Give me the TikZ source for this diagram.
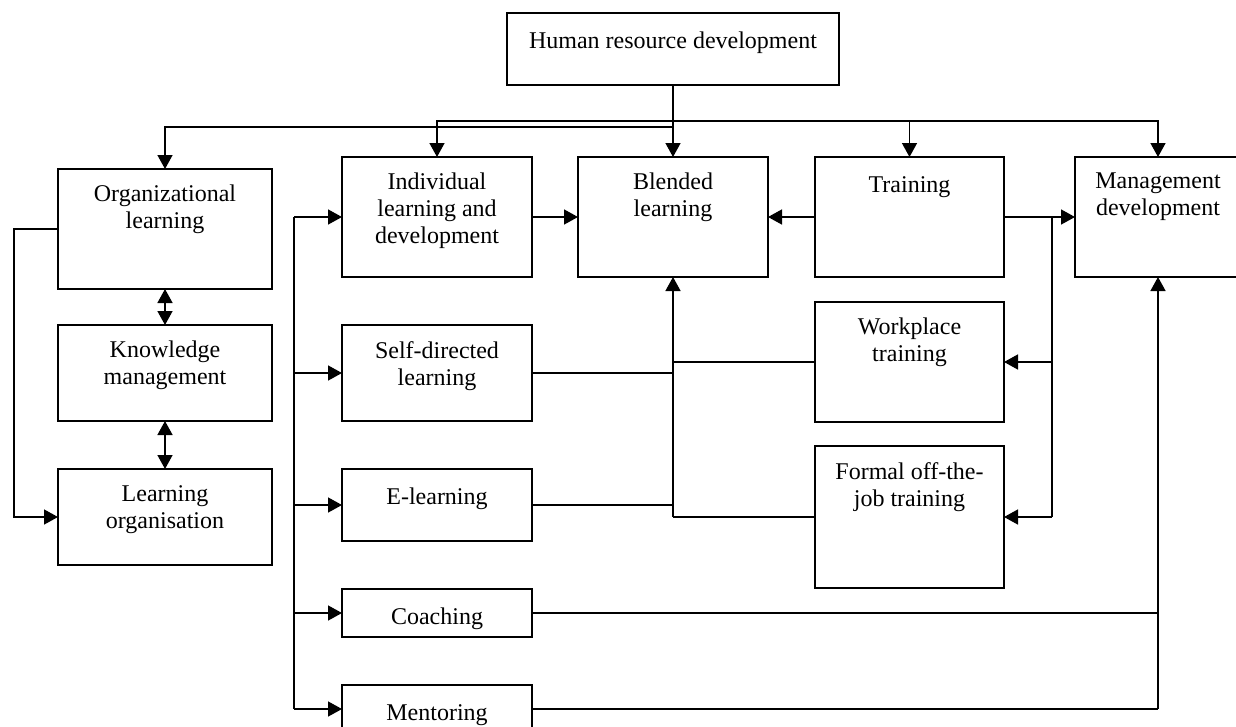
\documentclass[tikz,border=0pt]{standalone}
\usepackage{fontspec}
\setmainfont{Liberation Serif}
\usetikzlibrary{arrows.meta}

\begin{document}
\begin{tikzpicture}[x=1pt,y=-1pt,line width=1.5pt,
  >={Triangle[length=14pt,width=15pt]},
  box/.style={draw,rectangle,inner sep=0pt,outer sep=0pt},
  lbl/.style={anchor=north,align=center,inner sep=0pt,yshift=-15.5pt,
    font=\fontsize{24}{27}\selectfont,execute at begin node=\strut}]
  \useasboundingbox (0,0) rectangle (1236,726);
  \clip (0,0) rectangle (1236,726);

  \node[box,minimum width=332,minimum height=72] (hrd) at (673,49) {};
  \node[box,minimum width=214,minimum height=120] (orgl) at (165,229) {};
  \node[box,minimum width=214,minimum height=96] (km) at (165,373) {};
  \node[box,minimum width=214,minimum height=96] (lorg) at (165,517) {};
  \node[box,minimum width=190,minimum height=120] (indiv) at (437,217) {};
  \node[box,minimum width=190,minimum height=96] (selfd) at (437,373) {};
  \node[box,minimum width=190,minimum height=72] (elearn) at (437,505) {};
  \node[box,minimum width=190,minimum height=48] (coach) at (437,613) {};
  \node[box,minimum width=190,minimum height=48] (mentor) at (437,709) {};
  \node[box,minimum width=190,minimum height=120] (blend) at (673,217) {};
  \node[box,minimum width=189,minimum height=120] (train) at (909.5,217) {};
  \node[box,minimum width=189,minimum height=120] (work) at (909.5,362) {};
  \node[box,minimum width=189,minimum height=142] (offjob) at (909.5,517) {};
  \node[box,minimum width=166,minimum height=120] (mgmt) at (1158,217) {};

  \node[lbl] (hrd-t) at (hrd.north) {Human resource development};
  \node[lbl] (orgl-t) at (orgl.north) {Organizational\\learning};
  \node[lbl] (km-t) at (km.north) {Knowledge\\management};
  \node[lbl] (lorg-t) at (lorg.north) {Learning\\organisation};
  \node[lbl] (indiv-t) at (indiv.north) {Individual\\learning and\\development};
  \node[lbl] (selfd-t) at (selfd.north) {Self-directed\\learning};
  \node[lbl] (elearn-t) at (elearn.north) {E-learning};
  \node[lbl] (coach-t) at (coach.north) {Coaching};
  \node[lbl] (mentor-t) at (mentor.north) {Mentoring};
  \node[lbl] (blend-t) at (blend.north) {Blended\\learning};
  \node[lbl] (train-t) at (train.north) {Training};
  \node[lbl] (work-t) at (work.north) {Workplace\\training};
  \node[lbl] (offjob-t) at (offjob.north) {Formal off-the-\\job training};
  \node[lbl] (mgmt-t) at (mgmt.north) {Management\\development};

  \coordinate (bus1) at (673,121);
  \coordinate (bus2) at (673,127);
  \coordinate (lbus) at (294,217);
  \coordinate (lend) at (294,709);
  \coordinate (rbus) at (1052,217);
  \coordinate (rend) at (1052,517);
  \coordinate (cend) at (673,517);
  \coordinate (mend) at (1158,709);

  % from the top box
  \draw[->] (hrd) -- (blend);
  \draw[->] (bus1) -| (indiv.north);
  \draw[->] (bus1) -| (train.north);
  \draw[->] (bus1) -| (mgmt.north);
  \draw[->] (bus2) -| (orgl.north);

  \draw[->] (orgl.west) -- ++(-44,0) |- (lorg.west);
  \draw[<->] (orgl) -- (km);
  \draw[<->] (km) -- (lorg);

  \draw (lbus) -- (lend);
  \foreach \n in {indiv,selfd,elearn,coach,mentor}
    \draw[->] (lbus |- \n.west) -- (\n.west);

  \draw[->] (indiv) -- (blend);
  \draw[->] (train) -- (blend);
  \draw[->] (train) -- (mgmt);

  \draw (rbus) -- (rend);
  \draw[->] (rbus |- work.east) -- (work.east);
  \draw[->] (rend) -- (offjob.east);

  \draw[->] (cend) -- (blend.south);
  \foreach \n in {selfd,elearn,work}
    \draw (\n) -- (cend |- \n);
  \draw (offjob) -- (cend);

  \draw[->] (mend) -- (mgmt.south);
  \draw (coach) -- (mend |- coach);
  \draw (mentor) -- (mend);
\end{tikzpicture}
\end{document}
